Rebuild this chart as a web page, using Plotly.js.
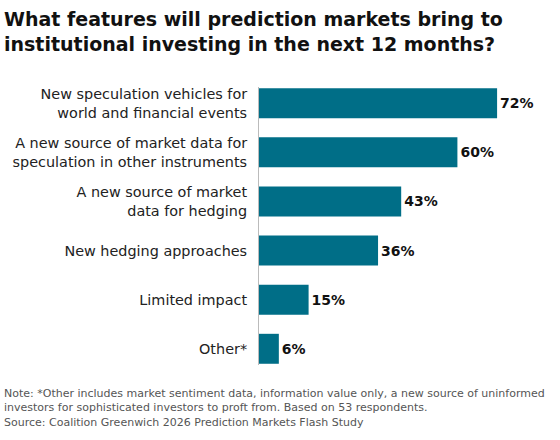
<!DOCTYPE html>
<html>
<head>
<meta charset="utf-8">
<script src="https://cdn.plot.ly/plotly-3.0.1.min.js"></script>
<style>
  html, body { margin: 0; padding: 0; background: #fff; }
  #chart { width: 560px; height: 440px; }
</style>
</head>
<body>
<div id="chart"></div>
<script>
// survey answers, top to bottom
const categories = [
    "New speculation vehicles for<br>world and financial events",
    "A new source of market data for<br>speculation in other instruments",
    "A new source of market<br>data for hedging",
    "New hedging approaches",
    "Limited impact",
    "Other*"
];
const shares = [72, 60, 43, 36, 15, 6];
const valueLabels = ["72%", "60%", "43%", "36%", "15%", "6%"];

const titleText = "What features will prediction markets bring to<br>institutional investing in the next 12 months?";
const noteText = "Note: *Other includes market sentiment data, information value only, a new source of uninformed<br>" +
    "investors for sophisticated investors to proft from. Based on 53 respondents.<br>" +
    "Source: Coalition Greenwich 2026 Prediction Markets Flash Study";

const font = "DejaVu Sans, Verdana, sans-serif";

// plot box in px, used to place the paper annotations
const L = 259, R = 10, T = 87, B = 75;
const plotW = 560 - L - R, plotH = 440 - T - B;

const trace = {
    type: "bar",
    orientation: "h",
    x: shares,
    y: categories,
    text: valueLabels,
    textposition: "outside",
    cliponaxis: false,
    textfont: { family: font, size: 14, color: "#111", weight: "bold" },
    marker: { color: "#006e87" },
    hoverinfo: "none"
};

const layout = {
    width: 560,
    height: 440,
    margin: { l: L, r: R, t: T, b: B },
    paper_bgcolor: "#fff",
    plot_bgcolor: "#fff",
    showlegend: false,
    bargap: 0.39,
    font: { family: font, color: "#222" },
    xaxis: {
        range: [0, 88],
        visible: false,
        fixedrange: true
    },
    yaxis: {
        type: "category",
        range: [5.33, -0.33],
        showline: true,
        linecolor: "#bbb",
        linewidth: 1,
        ticks: "",
        showgrid: false,
        zeroline: false,
        ticklabelstandoff: 8,
        tickfont: { family: font, size: 14.4, color: "#222" },
        fixedrange: true
    },
    annotations: [
        {
            // title, as an annotation so both lines sit where they should
            text: "<b>" + titleText + "</b>",
            xref: "paper", yref: "paper",
            x: -(L - 2) / plotW, y: 1 + (T - 6) / plotH,
            xanchor: "left", yanchor: "top",
            align: "left",
            showarrow: false,
            font: { family: font, size: 19, color: "#111" }
        },
        {
            text: noteText,
            xref: "paper", yref: "paper",
            x: -(L - 2) / plotW, y: 0,
            xanchor: "left", yanchor: "top",
            yshift: -20,
            align: "left",
            showarrow: false,
            font: { family: font, size: 11, color: "#555" }
        }
    ]
};

Plotly.newPlot("chart", [trace], layout, { displayModeBar: false, staticPlot: true });
</script>
</body>
</html>
